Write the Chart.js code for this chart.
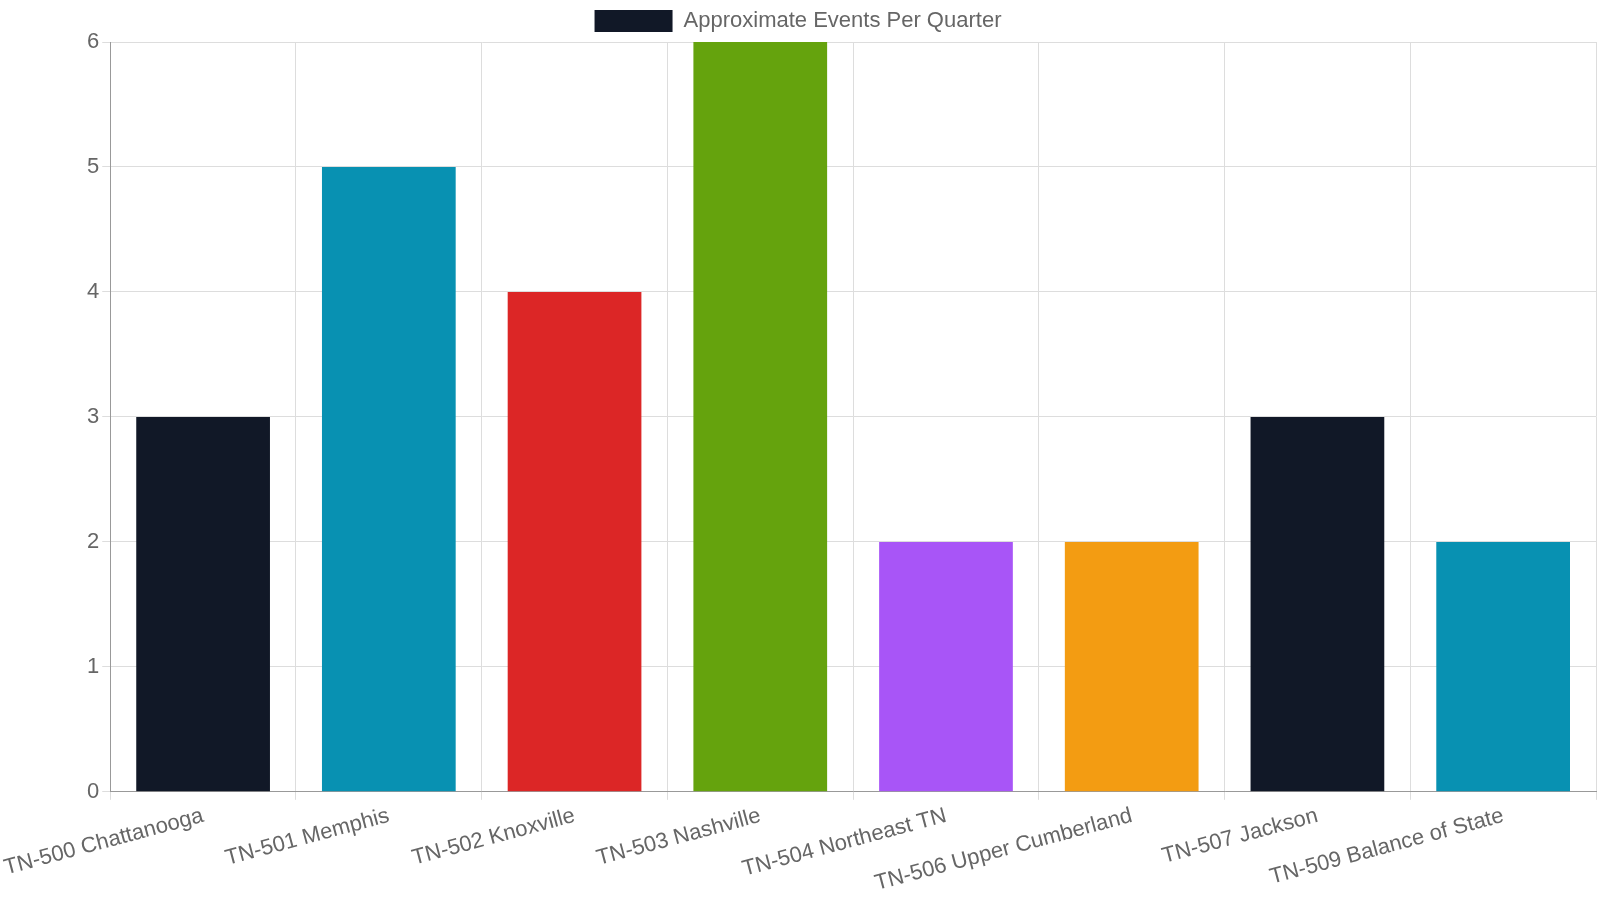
<!DOCTYPE html>
<html><head><meta charset="utf-8">
<script src="https://cdn.jsdelivr.net/npm/chart.js@4"></script>
<style>html,body{margin:0;padding:0;background:#fff}#w{width:1600px;height:900px}</style>
</head><body><div id="w"><canvas id="c"></canvas></div>
<script>
const categories = ["TN-500 Chattanooga","TN-501 Memphis","TN-502 Knoxville","TN-503 Nashville","TN-504 Northeast TN","TN-506 Upper Cumberland","TN-507 Jackson","TN-509 Balance of State"];
const events = [3,5,4,6,2,2,3,2];
const colors = ["#111827","#0891b2","#dc2626","#65a30d","#a855f7","#f39c12","#111827","#0891b2"];
const font = {family:"'Liberation Sans', Arial, sans-serif", size:22};
Chart.defaults.font = font;
Chart.defaults.color = "#666";
new Chart(document.getElementById('c'), {
  type:'bar',
  data:{labels:categories,datasets:[{label:"Approximate Events Per Quarter",data:events,backgroundColor:colors}]},
  options:{responsive:true,maintainAspectRatio:false,animation:false,
    layout:{padding:{right:4}},
    plugins:{legend:{labels:{boxWidth:78,boxHeight:22,font:font}}},
    scales:{
      x:{ticks:{font:font,minRotation:15,maxRotation:15,color:"#666"},grid:{color:"#ddd"},border:{color:"#999"}},
      y:{min:0,max:6,ticks:{stepSize:1,font:font,color:"#666"},grid:{color:"#ddd"},border:{color:"#999"}}
    }}
});
</script></body></html>
